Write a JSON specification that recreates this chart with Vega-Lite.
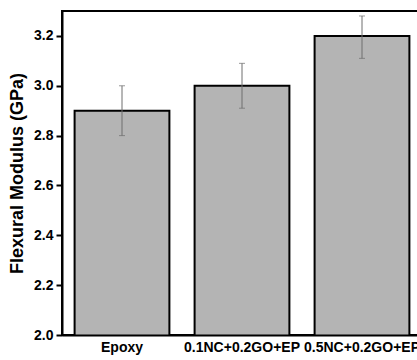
{
  "$schema": "https://vega.github.io/schema/vega-lite/v6.json",
  "width": 360,
  "height": 324,
  "autosize": {"type": "none"},
  "padding": {"left": 62, "top": 11, "right": 0, "bottom": 25},
  "background": "white",
  "config": {
    "font": "Liberation Sans",
    "view": {"stroke": "black", "strokeWidth": 2}
  },
  "data": {
    "values": [
      {"sample": "Epoxy", "modulus": 2.9, "low": 2.8, "high": 3.0},
      {"sample": "0.1NC+0.2GO+EP", "modulus": 3.0, "low": 2.91, "high": 3.09},
      {"sample": "0.5NC+0.2GO+EP", "modulus": 3.2, "low": 3.11, "high": 3.28}
    ]
  },
  "encoding": {
    "x": {
      "field": "sample",
      "type": "nominal",
      "sort": null,
      "scale": {"paddingInner": 0.21, "paddingOuter": 0.105},
      "axis": {
        "title": null,
        "labelAngle": 0,
        "labelFont": "Liberation Sans",
        "labelFontSize": 14,
        "labelFontWeight": "bold",
        "labelColor": "black",
        "labelPadding": 5,
        "ticks": false,
        "domainColor": "black",
        "domainWidth": 2,
        "labelOverlap": false,
        "labelLimit": 0,
        "zindex": 1
      }
    }
  },
  "layer": [
    {
      "mark": {"type": "bar", "fill": "#b4b4b4", "stroke": "black", "strokeWidth": 2, "clip": true},
      "encoding": {
        "y": {
          "field": "modulus",
          "type": "quantitative",
          "scale": {"domain": [2.0, 3.3], "zero": false, "nice": false},
          "axis": {
            "title": "Flexural Modulus (GPa)",
            "titleFont": "Liberation Sans",
            "titleFontSize": 18,
            "titleFontWeight": "bold",
            "titleColor": "black",
            "titlePadding": 7,
            "values": [2.0, 2.1, 2.2, 2.3, 2.4, 2.5, 2.6, 2.7, 2.8, 2.9, 3.0, 3.1, 3.2],
            "labelExpr": "round(datum.value*10)%2==0 ? format(datum.value,'.1f') : ''",
            "labelFont": "Liberation Sans",
            "labelFontSize": 14,
            "labelFontWeight": "bold",
            "labelColor": "black",
            "labelPadding": 3,
            "tickColor": "black",
            "tickWidth": 2,
            "tickSize": {"condition": {"test": "round(datum.value*10)%2==0", "value": 6}, "value": 3},
            "domainColor": "black",
            "domainWidth": 2,
            "grid": false,
            "zindex": 1
          }
        }
      }
    },
    {
      "mark": {"type": "rule", "color": "#6e6e6e", "strokeWidth": 1},
      "encoding": {
        "y": {"field": "low", "type": "quantitative"},
        "y2": {"field": "high"}
      }
    },
    {
      "mark": {"type": "tick", "color": "#6e6e6e", "size": 6, "thickness": 1},
      "encoding": {"y": {"field": "low", "type": "quantitative"}}
    },
    {
      "mark": {"type": "tick", "color": "#6e6e6e", "size": 6, "thickness": 1},
      "encoding": {"y": {"field": "high", "type": "quantitative"}}
    }
  ]
}
